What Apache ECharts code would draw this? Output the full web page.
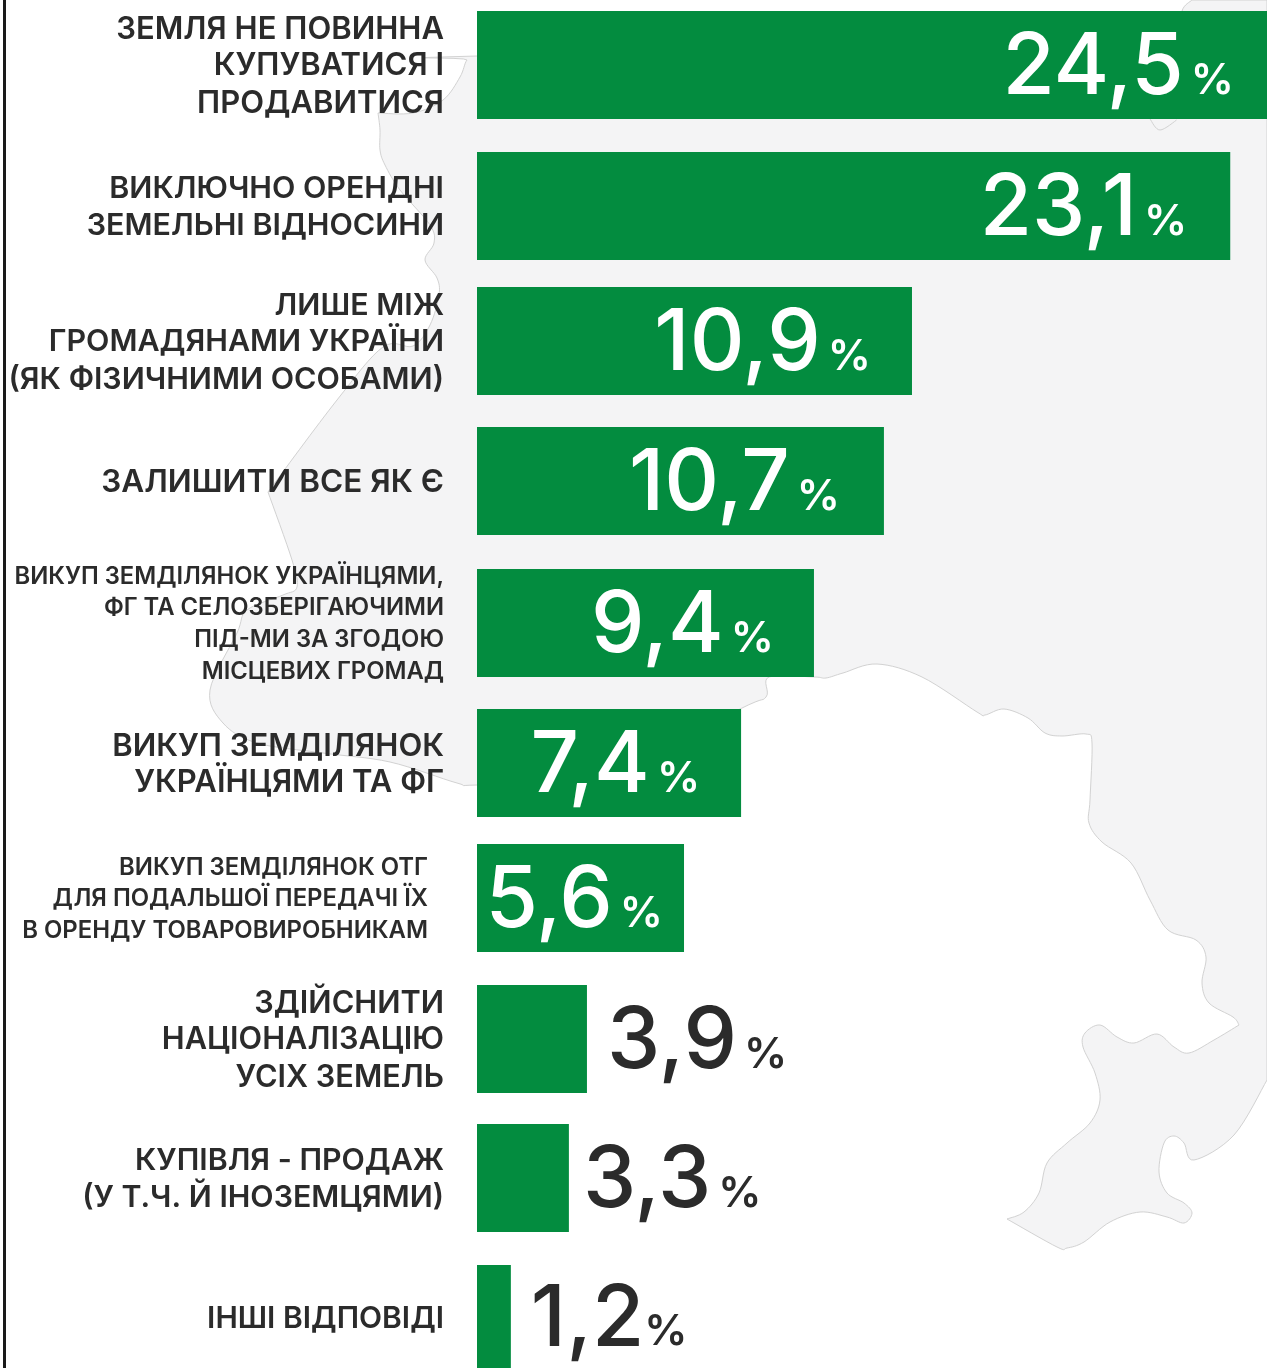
<!DOCTYPE html>
<html><head><meta charset="utf-8">
<style>html,body{margin:0;padding:0;background:#fff}#c{width:1267px;height:1368px}</style>
<script src="https://cdn.jsdelivr.net/npm/echarts@6/dist/echarts.min.js"></script>
</head><body><div id="c"></div>
<script>
const categories = [
  'ЗЕМЛЯ НЕ ПОВИННА\nКУПУВАТИСЯ І\nПРОДАВИТИСЯ',
  'ВИКЛЮЧНО ОРЕНДНІ\nЗЕМЕЛЬНІ ВІДНОСИНИ',
  'ЛИШЕ МІЖ\nГРОМАДЯНАМИ УКРАЇНИ\n(ЯК ФІЗИЧНИМИ ОСОБАМИ)',
  'ЗАЛИШИТИ ВСЕ ЯК Є',
  'ВИКУП ЗЕМДІЛЯНОК УКРАЇНЦЯМИ,\nФГ ТА СЕЛОЗБЕРІГАЮЧИМИ\nПІД-МИ ЗА ЗГОДОЮ\nМІСЦЕВИХ ГРОМАД',
  'ВИКУП ЗЕМДІЛЯНОК\nУКРАЇНЦЯМИ ТА ФГ',
  'ВИКУП ЗЕМДІЛЯНОК ОТГ\nДЛЯ ПОДАЛЬШОЇ ПЕРЕДАЧІ ЇХ\nВ ОРЕНДУ ТОВАРОВИРОБНИКАМ',
  'ЗДІЙСНИТИ\nНАЦІОНАЛІЗАЦІЮ\nУСІХ ЗЕМЕЛЬ',
  'КУПІВЛЯ - ПРОДАЖ\n(У Т.Ч. Й ІНОЗЕМЦЯМИ)',
  'ІНШІ ВІДПОВІДІ'
];
// the printed shares
const shares = ['24,5','23,1','10,9','10,7','9,4','7,4','5,6','3,9','3,3','1,2'];
// the bars in the reference are not proportional to the printed shares: their drawn lengths
const drawnLengths = [24.5,23.36,13.49,12.62,10.45,8.19,6.42,3.41,2.85,1.05];
const rowTops = [11,152,287,427,569,709,844,985,1124,1265];
const labelInside = [true,true,true,true,true,true,true,false,false,false];
const labelGap = [33,43,41,44,40,41,21,20,14,20];
const percentGap = [7,7,7,7,7,7,7,7,7,0];
const labelSizes = [31,30.4,30.4,31.5,23.8,31,23.9,30.7,30.3,30];
const labelLines = [37.5,37.5,37.5,37.5,32,37.5,32,37.5,37.5,37.5];
const axisGap = [33,33,33,33,33,33,49,33,33,33];

const GREEN = '#038c3f', INK = '#2b2b2b';
const FONT = 'Inter, "Noto Sans", sans-serif';

// background map outline (decorative), split at its sharp corners
const mapTop = [[1192,0],[1182,11],[1180,40],[477,56],[467,60],[460,77],[443,100],[413,113],[378,113]];
const mapWest = [[378,113],[380,130],[380,150],[385,165],[400,190],[430,225],[434,243],[425,260],[437,278],[439,295],[430,325],[413,346],[383,347],[337,400],[268,492]];
const mapSouth = [[268,492],[292,560],[297,587],[283,595],[247,610],[237,633],[210,690],[223,723],[257,743],[323,753],[390,762],[457,783],[477,785],[600,780],[740,709],[766,697],[769,677],[814,677],[826,678],[843,673],[877,664],[922,677],[977,712],[985,715],[1004,709],[1028,718],[1045,733],[1062,736],[1086,734],[1092,743],[1090,800],[1089,823],[1102,842],[1131,863],[1150,900],[1168,930],[1196,940],[1206,957],[1202,983],[1209,1003],[1233,1017],[1239,1025]];
const mapCoast = [[1239,1025],[1214,1040],[1189,1053],[1174,1047],[1157,1034],[1134,1043],[1117,1037],[1100,1025],[1085,1033],[1083,1047],[1095,1073],[1100,1100],[1090,1123],[1067,1143],[1047,1163],[1039,1193],[1024,1212],[1007,1219]];
const mapCrimea = [[1007,1219],[1057,1247],[1067,1248],[1084,1242],[1110,1222],[1140,1212],[1167,1217],[1184,1223],[1192,1213],[1184,1203],[1167,1193],[1159,1172],[1164,1143],[1174,1136],[1184,1143],[1194,1160],[1234,1135],[1267,1080]];
const mapNotch = [[1150,119],[1160,130],[1178,119]];

function sampled(pts){
  const out=[];
  for(let i=0;i<pts.length-1;i++){
    const p0=pts[Math.max(i-1,0)],p1=pts[i],p2=pts[i+1],p3=pts[Math.min(i+2,pts.length-1)];
    for(let k=0;k<8;k++){
      const t=k/8,t2=t*t,t3=t2*t;
      out.push([0,1].map(a=>0.5*(2*p1[a]+(p2[a]-p0[a])*t+(2*p0[a]-5*p1[a]+4*p2[a]-p3[a])*t2+(3*p1[a]-p0[a]-3*p2[a]+p3[a])*t3)));
    }
  }
  return out;
}
const mapPoints = [].concat(sampled(mapTop),sampled(mapWest),sampled(mapSouth),sampled(mapCoast),sampled(mapCrimea),[[1267,1080],[1267,0]]);

const grids=[],xAxes=[],yAxes=[],series=[];
categories.forEach((name,i)=>{
  grids.push({left:477,width:790,top:rowTops[i],height:108,containLabel:false});
  xAxes.push({type:'value',gridIndex:i,min:0,max:24.5,show:false});
  const base = {color:INK,fontFamily:FONT,fontWeight:600,fontSize:labelSizes[i],align:'right'};
  yAxes.push({type:'category',gridIndex:i,data:[name],
    axisLine:{show:false},axisTick:{show:false},splitLine:{show:false},
    axisLabel:{margin:axisGap[i],align:'right',
      formatter:v=>v.split('\n').map((l,k)=>'{'+(k?'t':'f')+'|'+l+'}').join('\n'),
      rich:{
        f:Object.assign({lineHeight:labelLines[i]+2,height:labelLines[i]-2,verticalAlign:'bottom'},base),
        t:Object.assign({lineHeight:labelLines[i]},base)
      }}});
  const col = labelInside[i]?'#fff':INK;
  series.push({type:'bar',xAxisIndex:i,yAxisIndex:i,barWidth:'100%',
    itemStyle:{color:GREEN},data:[drawnLengths[i]],silent:true,
    label:{show:true,position:labelInside[i]?'insideRight':'right',distance:labelGap[i],
      formatter:()=>'{n|'+shares[i]+'}{p|%}',
      rich:{
        n:{fontFamily:FONT,fontSize:85,fontWeight:500,color:col,lineHeight:92,verticalAlign:'bottom'},
        p:{fontFamily:FONT,fontSize:43,fontWeight:600,color:col,padding:[0,0,0,percentGap[i]],height:60,lineHeight:60,verticalAlign:'bottom'}
      }}});
});

const chart = echarts.init(document.getElementById('c'),null,{renderer:'canvas'});
chart.setOption({
  animation:false,backgroundColor:'#fff',
  graphic:[
    {type:'polygon',silent:true,z:-10,shape:{points:mapPoints},
      style:{fill:'#f4f4f5',stroke:'#d2d2d2',lineWidth:1}},
    {type:'polyline',silent:true,z:-9,shape:{points:sampled(mapNotch)},
      style:{fill:null,stroke:'#d2d2d2',lineWidth:1}},
    {type:'rect',silent:true,z:-8,shape:{x:3,y:0,width:3,height:1368},style:{fill:'#1a1a1a'}}
  ],
  grid:grids,xAxis:xAxes,yAxis:yAxes,series:series
});
</script></body></html>
